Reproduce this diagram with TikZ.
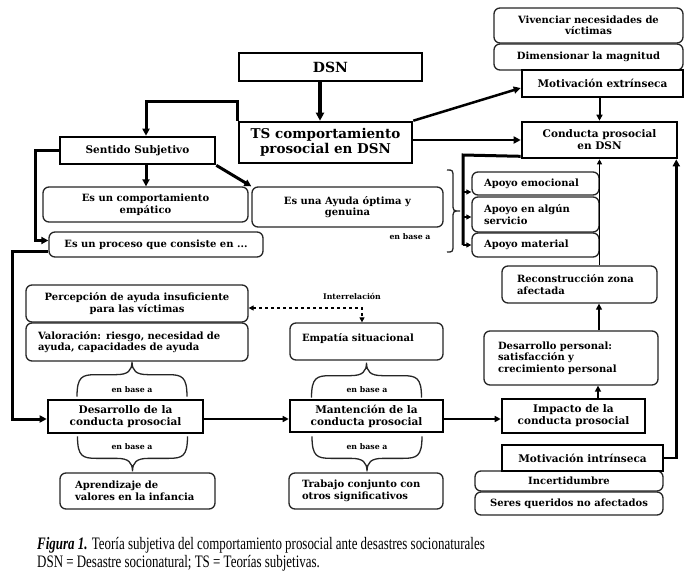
\documentclass[tikz,border=0pt]{standalone}
\usepackage{fontspec}
\setmainfont{DejaVu Serif}
\newfontfamily\capfont[FakeStretch=0.74]{Liberation Serif}
\usetikzlibrary{arrows.meta,calc}
\tikzset{
  thickbox/.style={draw,line width=2.6pt,fill=white,inner sep=2pt,align=center,
    font=\bfseries\fontsize{10.5}{12}\selectfont},
  rbox/.style={draw=black!85,line width=1.3pt,rounded corners=6pt,fill=white,inner sep=2pt,align=center,
    font=\bfseries\fontsize{10}{11.5}\selectfont},
  lbox/.style={rbox,align=left,inner xsep=12pt},
  smalltxt/.style={font=\bfseries\fontsize{7.8}{9}\selectfont,inner sep=1pt},
  bigarr/.style={-{Triangle[length=8pt,width=8pt]},line width=3.2pt},
  midarr/.style={-{Triangle[length=7pt,width=7pt]},line width=2.5pt},
  thinarr/.style={-{Triangle[length=6pt,width=6pt]},line width=1.8pt},
  hairarr/.style={-{Triangle[length=5pt,width=5pt]},line width=1pt},
  ubrace/.pic={\draw[line width=1.3pt,black!85] (-55,35) .. controls (-55,15) and (-50,13) .. (-36,13) -- (-16,13)
     .. controls (-4,13) and (0,9) .. (0,0) .. controls (0,9) and (4,13) .. (16,13) -- (36,13) .. controls (50,13) and (55,15) .. (55,35);},
  rbrace/.pic={\draw[line width=1.3pt,black!85] (-13,-41) .. controls (-7,-41) .. (-7,-33) -- (-7,-8)
     .. controls (-7,0) .. (0,0) .. controls (-7,0) .. (-7,8) -- (-7,33) .. controls (-7,41) .. (-13,41);}
}
\begin{document}
\begin{tikzpicture}[x=1pt,y=-1pt]
\fill[white] (0,0) rectangle (694,579);
\useasboundingbox (0,0) rectangle (694,579);

% rounded boxes
\node[rbox,minimum width=205pt,minimum height=35pt] (comp) at (145.5,204.5) {Es un comportamiento\\empático};
\node[rbox,minimum width=191pt,minimum height=40pt] (ayuda) at (347.5,207) {Es una Ayuda óptima y\\genuina};
\node[rbox,minimum width=214pt,minimum height=25pt] (proc) at (156,244.5) {Es un proceso que consiste en ...};
\node[rbox,minimum width=222pt,minimum height=37pt] (perc) at (137,303.5) {Percepción de ayuda insuficiente\\para las víctimas};
\node[lbox,text width=198pt,minimum height=38pt] (val) at (137,342) {Valoración: riesgo, necesidad de\\ayuda, capacidades de ayuda};
\node[lbox,text width=129pt,minimum height=37pt,text depth=8pt] (emp) at (366.5,341.5) {Empatía situacional};
\node[lbox,inner xsep=15pt,text width=125pt,minimum height=36pt] (apr) at (137.5,491) {Aprendizaje de\\valores en la infancia};
\node[lbox,inner xsep=13pt,text width=128pt,minimum height=36pt] (trab) at (366,491) {Trabajo conjunto con\\otros significativos};
\node[rbox,minimum width=188pt,minimum height=20pt] (incert) at (569,481) {Incertidumbre};
\node[rbox,minimum width=188pt,minimum height=23pt] (seres) at (569,503.5) {Seres queridos no afectados};
\node[lbox,inner xsep=14pt,text width=146pt,minimum height=54pt] (dper) at (571,358) {Desarrollo personal:\\satisfacción y\\crecimiento personal};
\node[lbox,inner xsep=15pt,text width=125pt,minimum height=37pt] (recon) at (579.5,284.5) {Reconstrucción zona\\afectada};
\node[lbox,text width=103pt,minimum height=23pt] (apemo) at (535.5,183.5) {Apoyo emocional};
\node[lbox,text width=103pt,minimum height=35pt] (apserv) at (535.5,214.5) {Apoyo en algún\\servicio};
\node[lbox,text width=103pt,minimum height=24pt] (apmat) at (535.5,245) {Apoyo material};
\node[rbox,minimum width=189pt,minimum height=26pt] (dim) at (588.5,57) {Dimensionar la magnitud};
\node[rbox,minimum width=189pt,minimum height=35pt] (viv) at (588.5,25.5) {Vivenciar necesidades de\\víctimas};

% thick boxes
\node[thickbox,minimum width=183pt,minimum height=28pt,font=\bfseries\fontsize{14}{16}\selectfont] (dsn) at (330.5,67) {DSN};
\node[thickbox,minimum width=173pt,minimum height=41pt,font=\bfseries\fontsize{13.5}{15}\selectfont] (ts) at (325.5,142.5) {TS comportamiento\\prosocial en DSN};
\node[thickbox,minimum width=155pt,minimum height=27pt] (sent) at (137.5,150.5) {Sentido Subjetivo};
\node[thickbox,minimum width=155pt,minimum height=33pt] (desa) at (125.5,416.5) {Desarrollo de la\\conducta prosocial};
\node[thickbox,minimum width=153pt,minimum height=32pt] (mant) at (366.5,416) {Mantención de la\\conducta prosocial};
\node[thickbox,minimum width=143pt,minimum height=34pt] (imp) at (573.5,416) {Impacto de la\\conducta prosocial};
\node[thickbox,minimum width=161pt,minimum height=26pt] (motint) at (582.5,458) {Motivación intrínseca};
\node[thickbox,minimum width=155pt,minimum height=36pt] (cond) at (599.5,140) {Conducta prosocial\\en DSN};
\node[thickbox,minimum width=161pt,minimum height=27pt] (motext) at (602.5,83.5) {Motivación extrínseca};

% small labels
\node[smalltxt] (inter) at (352,296) {Interrelación};
\node[smalltxt] (eb1) at (132,390) {en base a};
\node[smalltxt] (eb2) at (132,447) {en base a};
\node[smalltxt] (eb3) at (367,390) {en base a};
\node[smalltxt] (eb4) at (367,447) {en base a};
\node[smalltxt] (eb5) at (410,237) {en base a};

% braces
\pic at ([xshift=-5pt]val.south) {ubrace};
\pic[yscale=-1] at ([xshift=-5pt,yshift=1pt]apr.north) {ubrace};
\pic at ([yshift=-2pt]emp.south) {ubrace};
\pic[yscale=-1] at ([xshift=1pt,yshift=1pt]trab.north) {ubrace};
\coordinate (rbt) at (460,211);
\pic at (rbt) {rbrace};

% connectors
\draw[bigarr] ([xshift=-10.5pt]dsn.south) -- ([xshift=-10.5pt]dsn.south |- ts.north);
\draw[midarr,line width=3pt] (ts.north west) -- ++(0,-19) -| ([xshift=8.5pt]sent.north);
\draw[midarr,line width=3pt] ([xshift=8.5pt]sent.south) -- ([xshift=8.5pt]sent.south |- comp.north);
\draw[midarr,line width=3pt] (sent.south east) -- (ayuda.north west);
\draw[midarr,line width=3pt] (sent.west) -- ++(-23,0) |- ([yshift=4pt]proc.west);
\draw[midarr,line width=3pt] ([yshift=-7pt]proc.west) -- ++(-36,0) |- ([yshift=-2.5pt]desa.west);
\draw[midarr] (ts.north east) -- ([yshift=-4.5pt]motext.west);
\draw[midarr] (ts.east |- cond.west) -- (cond.west);
\draw[thinarr,line width=2pt] (motext.south -| cond.north) -- (cond.north);
\draw[dashed,line width=1.1pt,{Triangle[length=5pt,width=5pt]}-{Triangle[length=5pt,width=5pt]}]
  ([yshift=-4.5pt]perc.east) -| ([xshift=-4.5pt]emp.north);
\draw[thinarr,line width=2pt] ([yshift=-2.5pt]desa.east) -- ([yshift=-2.5pt]desa.east -| mant.west);
\draw[thinarr,line width=2pt] ([yshift=-3pt]mant.east) -- ([yshift=-3pt]mant.east -| imp.west);
\draw[thinarr,line width=1.6pt] ([xshift=24.5pt]imp.north) -- ([xshift=24.5pt]imp.north |- dper.south);
\draw[thinarr,line width=1.3pt] ([xshift=28pt]dper.north) -- ([xshift=28pt]dper.north |- recon.south);
\draw[hairarr] (recon.north -| cond.south) -- (cond.south);
\draw[midarr] (motint.east) -| ([xshift=-2pt]cond.south east);
\coordinate (bkt) at (463,155);
\draw[line width=3pt] ([yshift=3pt]cond.south west) -- (bkt) -- (bkt |- apmat.west);
\draw[hairarr,line width=1.5pt] ([yshift=-8.5pt]apemo.west -| bkt) -- ([yshift=-8.5pt]apemo.west);
\draw[hairarr,line width=1.5pt] ([yshift=-2.5pt]apserv.west -| bkt) -- ([yshift=-2.5pt]apserv.west);
\draw[hairarr,line width=1.5pt] (apmat.west -| bkt) -- (apmat.west);

% caption
\node[anchor=base west,inner sep=0pt,font=\capfont\fontsize{17.5}{19}\selectfont] (cap1) at (37,549)
  {\textbf{\textit{Figura 1.}} Teoría subjetiva del comportamiento prosocial ante desastres socionaturales};
\node[anchor=base west,inner sep=0pt,font=\capfont\fontsize{17.5}{19}\selectfont] (cap2) at (37,567.5)
  {DSN = Desastre socionatural; TS = Teorías subjetivas.};
\end{tikzpicture}
\end{document}
